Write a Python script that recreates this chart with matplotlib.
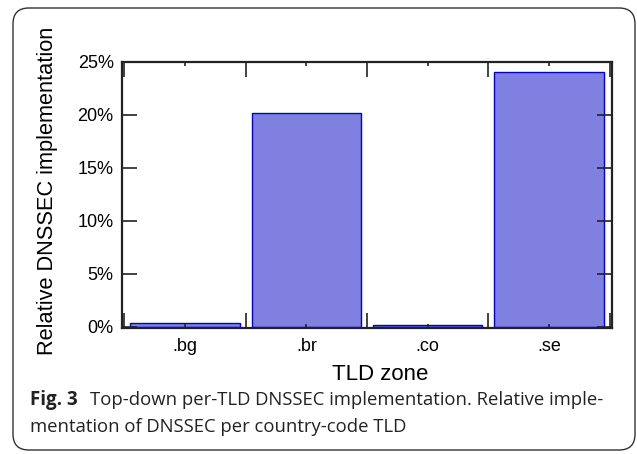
import matplotlib
matplotlib.use("Agg")
import matplotlib.pyplot as plt
from matplotlib.patches import FancyBboxPatch
from matplotlib.ticker import FixedLocator, PercentFormatter

categories = [".bg", ".br", ".co", ".se"]
values = [0.4, 20.2, 0.15, 24.1]
yticks = [0, 5, 10, 15, 20, 25]

W, H = 637, 454
fig = plt.figure(figsize=(W / 100, H / 100), dpi=100)

# rounded caption frame
frame = FancyBboxPatch((13 / W, 4 / H), (635 - 13) / W, (446 - 4) / H,
                       boxstyle="round,pad=0,rounding_size=0.025",
                       transform=fig.transFigure, facecolor="none",
                       edgecolor="#333333", linewidth=1.0, mutation_aspect=W / H,
                       zorder=-1)
fig.patches.append(frame)

left, right, top, bottom = 122, 612, 62, 328
ax = fig.add_axes([left / W, 1 - bottom / H, (right - left) / W, (bottom - top) / H])

x = list(range(len(categories)))
ax.bar(x, values, width=0.9, color="#8080e0", edgecolor="#0000cc", linewidth=1.0)

ax.set_xlim(-0.52, 3.52)
ax.set_ylim(-0.1, 25)
ax.yaxis.set_major_locator(FixedLocator(yticks))
ax.yaxis.set_major_formatter(PercentFormatter(decimals=0))
ax.set_xticks(x)
ax.set_xticklabels(categories)
ax.set_xticks([-0.5, 0.5, 1.5, 2.5, 3.5], minor=True)

font = "Liberation Sans"
for lab in ax.get_xticklabels() + ax.get_yticklabels():
    lab.set_fontfamily(font)
    lab.set_fontsize(13)

ax.tick_params(axis="both", which="major", direction="in", top=True, right=True,
               width=1.2, color="#222222")
ax.tick_params(axis="y", which="major", length=11, pad=6)
ax.tick_params(axis="x", which="major", length=3, pad=7)
ax.tick_params(axis="x", which="minor", direction="in", top=True, bottom=True,
               length=11, width=1.2, color="#222222")

for s in ax.spines.values():
    s.set_linewidth(1.6)
    s.set_color("#222222")

ax.set_ylabel("Relative DNSSEC implementation", fontfamily=font, fontsize=15.7)
ax.yaxis.set_label_coords((48 - left) / (right - left), (bottom - 191) / (bottom - top))
ax.set_xlabel("TLD zone", fontfamily=font, fontsize=16)
ax.xaxis.set_label_coords((380 - left) / (right - left), (bottom - 375) / (bottom - top))
ax.xaxis.label.set_verticalalignment("center")
ax.yaxis.label.set_verticalalignment("center")

cap_font = "Open Sans"
fig.text(30 / W, 1 - 400 / H, "Fig. 3", fontfamily=cap_font, fontweight="bold",
         fontsize=13.5, va="center", ha="left", color="#222222")
fig.text(90 / W, 1 - 400 / H, "Top-down per-TLD DNSSEC implementation. Relative imple-",
         fontfamily=cap_font, fontsize=13.3, va="center", ha="left", color="#222222")
fig.text(30 / W, 1 - 427 / H, "mentation of DNSSEC per country-code TLD",
         fontfamily=cap_font, fontsize=13.3, va="center", ha="left", color="#222222")

fig.savefig("out.png", dpi=100)
